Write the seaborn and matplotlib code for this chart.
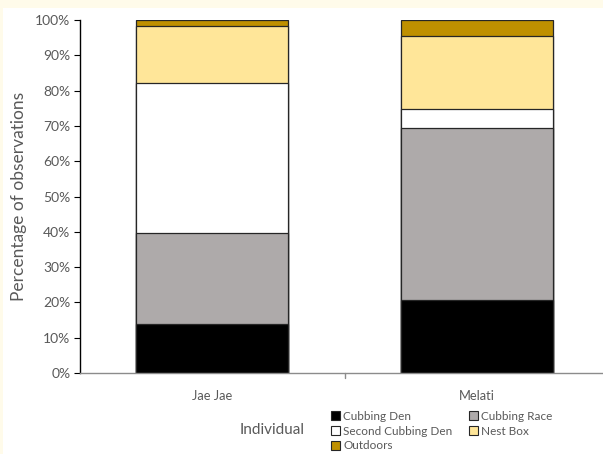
import numpy as np
import pandas as pd
import matplotlib
matplotlib.use('Agg')
import matplotlib.pyplot as plt
import seaborn as sns
from matplotlib.patches import Patch, Rectangle

individuals = ['Jae Jae', 'Melati']
locations = ['Cubbing Den', 'Cubbing Race', 'Second Cubbing Den', 'Nest Box', 'Outdoors']
cubbing_den = [13.9, 20.7]
cubbing_race = [25.8, 48.7]
second_den = [42.5, 5.4]
nest_box = [16.0, 20.7]
outdoors = [1.8, 4.5]
colors = ['#000000', '#AEAAAA', '#FFFFFF', '#FFE699', '#BF9000']

sns.set_style('white')
plt.rcParams['font.family'] = ['Lato', 'DejaVu Sans']
grey = '#595959'

df = pd.DataFrame({'Individual': individuals,
                   'Cubbing Den': cubbing_den,
                   'Cubbing Race': cubbing_race,
                   'Second Cubbing Den': second_den,
                   'Nest Box': nest_box,
                   'Outdoors': outdoors})
cum = df[locations].cumsum(axis=1)

fig = plt.figure(figsize=(6.03, 4.54), dpi=100)
fig.patch.set_facecolor('#FFFBEA')
fig.patches.append(Rectangle((3 / 603, 0), 1, 1 - 8 / 454, transform=fig.transFigure,
                             facecolor='white', edgecolor='none', zorder=-1))
ax = fig.add_axes([80 / 603, 1 - 373 / 454, 1 - 80 / 603 + 0.01, 353 / 454])
ax.set_facecolor('none')

# draw cumulative totals from the top down so each layer sits on the next
for loc, col in reversed(list(zip(locations, colors))):
    sns.barplot(x=df['Individual'], y=cum[loc], color=col, width=0.575,
                edgecolor='#262626', linewidth=0.9, saturation=1, ax=ax)

ax.set_ylim(0, 100)
ax.set_xlim(-0.5, 1.5)
ax.set_yticks(np.arange(0, 101, 10))
ax.set_yticklabels([f'{v}%' for v in range(0, 101, 10)], color=grey, fontsize=10)
ax.set_xticks([0, 1])
ax.set_xticklabels(individuals, color=grey, fontsize=9.3)
ax.tick_params(axis='x', length=0, pad=12)
ax.tick_params(axis='y', length=4, color='black', width=0.8, left=True, pad=3)
ax.set_xlabel('')
ax.set_ylabel('Percentage of observations', color=grey, fontsize=12.5)
ax.yaxis.set_label_coords(-0.10, 0.5)
for s in ['top', 'right']:
    ax.spines[s].set_visible(False)
ax.spines['left'].set_color('black')
ax.spines['left'].set_linewidth(1)
ax.spines['bottom'].set_color('#8c8c8c')
ax.spines['bottom'].set_linewidth(1)
ax.plot([0.5, 0.5], [0, -1.3], color='#8c8c8c', lw=1, clip_on=False)

handles = [Patch(facecolor=c, edgecolor='#262626', linewidth=0.8) for c in colors]
order = [0, 2, 4, 1, 3]
fig.legend([handles[i] for i in order], [locations[i] for i in order], ncol=2,
           loc='upper left', bbox_to_anchor=(325 / 603, 1 - 405 / 454),
           frameon=False, fontsize=8.5, labelcolor=grey, handlelength=0.75,
           handleheight=0.75, handletextpad=0.3, columnspacing=1.4,
           labelspacing=0.32, borderpad=0)
fig.text(272 / 603, 1 - 430 / 454, 'Individual', color=grey, fontsize=11,
         ha='center', va='center')

fig.savefig('out.png', dpi=100)
